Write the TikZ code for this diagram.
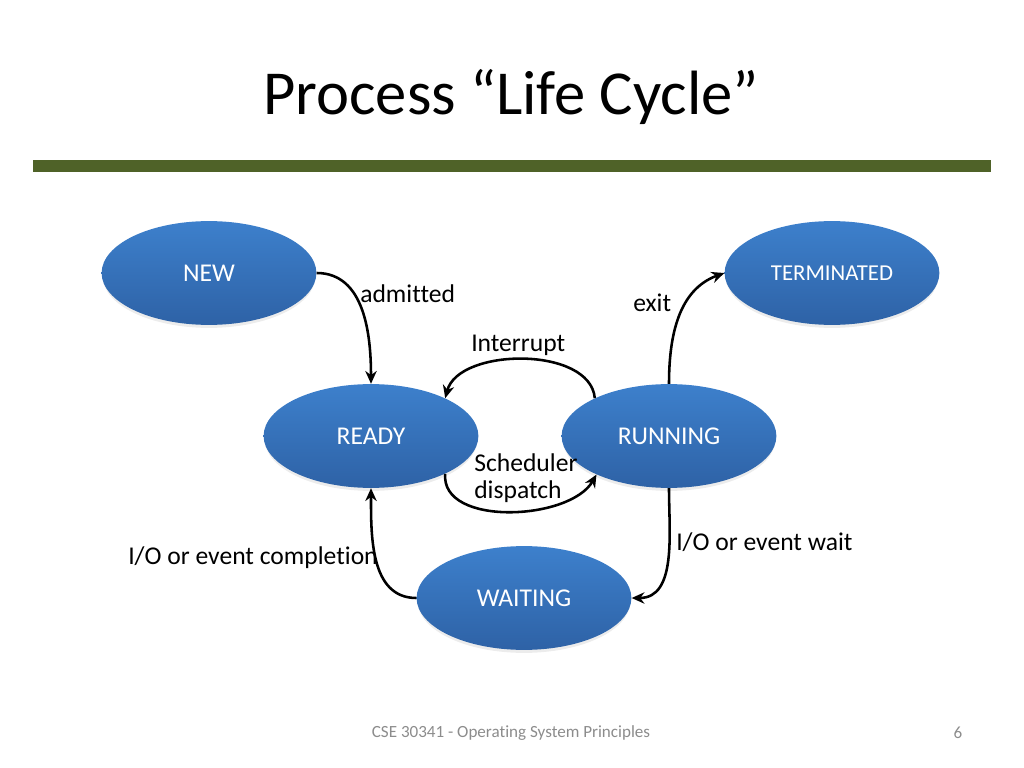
\documentclass[tikz,border=0pt]{standalone}
\usepackage{fontspec}
\setmainfont{Carlito}[RawFeature={-liga;-dlig;-calt}]
\usetikzlibrary{shapes.geometric,arrows.meta,shadows}
\definecolor{barolive}{HTML}{4F6228}
\definecolor{elltop}{HTML}{3D80CC}
\definecolor{ellbot}{HTML}{2E62A6}
\definecolor{footgray}{HTML}{8C8C8C}
\tikzset{
  state/.style={ellipse, minimum width=151pt, minimum height=73pt, inner sep=0pt,
    top color=elltop, bottom color=ellbot, draw=none, text=white,
    font=\fontsize{18}{20}\selectfont,
    drop shadow={opacity=0.15, shadow xshift=0pt, shadow yshift=-2.5pt, shadow scale=0.99}},
  smallstate/.style={state, font=\fontsize{16}{18}\selectfont},
  lbl/.style={font=\fontsize{18}{20}\selectfont, inner sep=0pt, anchor=west, align=left},
  conn/.style={line width=1.8pt, -{Stealth[length=9pt,width=8pt]}}
}
\begin{document}
\begin{tikzpicture}[x=0.703125pt, y=-0.703125pt]
\useasboundingbox (0,0) rectangle (1024,768);
% title
\node[font=\fontsize{44}{48}\selectfont, inner sep=0pt] (title) at (511,97) {Process “Life Cycle”};
% bar
\fill[barolive] (33,160) rectangle (991,172);
% states
\node[state] (new) at (209,273) {NEW};
\node[smallstate] (term) at (832,273) {TERMINATED};
\node[state] (ready) at (371,436) {READY};
\node[state] (run) at (669,436) {RUNNING};
\node[state] (wait) at (524,598) {WAITING};
% connectors
\draw[conn] (new.east) to[out=0, in=90] (ready.north);
\draw[conn] (run.north) to[out=90, in=200] (term.west);
\draw[conn] (run.153) to[out=95, in=75, looseness=0.9] (ready.27);
\draw[conn] (ready.-27) to[out=-95, in=-120, looseness=0.9] (run.208);
\draw[conn] (run.south) to[out=-90, in=0] (wait.east);
\draw[conn] (wait.west) to[out=180, in=-90] (ready.south);
% labels
\node[lbl] (ladm) at (360,294) {admitted};
\node[lbl] (lexit) at (633,303) {exit};
\node[lbl] (lint) at (471,345) {Interrupt};
\node[lbl, text depth=0pt] (lsch) at (474,476) {Scheduler\\[-1pt]dispatch};
\node[lbl] (lwait) at (676,542) {I/O or event wait};
\node[lbl] (lcomp) at (128,558) {I/O or event completion};
% footer
\node[font=\fontsize{12}{14}\selectfont, text=footgray, inner sep=0pt] (foot) at (511,733) {CSE 30341 - Operating System Principles};
\node[font=\fontsize{12}{14}\selectfont, text=footgray, inner sep=0pt] (pnum) at (958,733) {6};
\end{tikzpicture}
\end{document}
